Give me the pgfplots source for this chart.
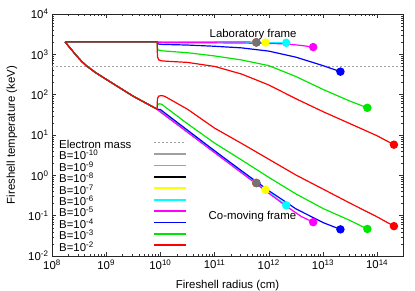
\documentclass[border=0pt]{standalone}
\usepackage{fontspec}
\setmainfont{Liberation Sans}
\usepackage{pgfplots}
\pgfplotsset{compat=1.18}
\definecolor{cgray}{RGB}{160,160,160}
\definecolor{cgraym}{RGB}{115,115,115}
\definecolor{corange}{RGB}{255,128,80}
\definecolor{cblack}{RGB}{0,0,0}
\definecolor{cyellow}{RGB}{255,255,0}
\definecolor{ccyan}{RGB}{0,255,255}
\definecolor{cmagenta}{RGB}{255,0,255}
\definecolor{cblue}{RGB}{0,0,255}
\definecolor{cgreen}{RGB}{0,230,0}
\definecolor{cred}{RGB}{255,0,0}
\newcommand{\fs}{\fontsize{11.4}{13}\selectfont}
\begin{document}
\begin{tikzpicture}
\useasboundingbox (0,0) rectangle (415pt,291pt);
\begin{axis}[
  at={(52pt,35pt)}, anchor=south west,
  scale only axis, width=351pt, height=242pt,
  xmode=log, ymode=log,
  xmin=1e8, xmax=3e14, ymin=1e-2, ymax=1e4,
  xtick={1e8,1e9,1e10,1e11,1e12,1e13,1e14},
  xticklabels={10\textsuperscript{8},10\textsuperscript{9},10\textsuperscript{10},10\textsuperscript{11},10\textsuperscript{12},10\textsuperscript{13},10\textsuperscript{14}},
  ytick={1e-2,1e-1,1,10,100,1000,10000},
  yticklabels={10\textsuperscript{-2},10\textsuperscript{-1},10\textsuperscript{0},10\textsuperscript{1},10\textsuperscript{2},10\textsuperscript{3},10\textsuperscript{4}},
  tick label style={font=\fs},
  label style={font=\fs},
  xlabel={Fireshell radius (cm)},
  ylabel={Fireshell temperature (keV)},
  xlabel style={at={(axis description cs:0.5,-0.124)}, anchor=center},
  ylabel style={at={(axis description cs:-0.114,0.5)}, anchor=center, rotate=0},
  axis line style={black!85, line width=0.7pt},
  major tick length=4.5pt, minor tick length=2.2pt,
  every tick/.style={black!80},
  legend cell align=left,
  legend plot pos=right,
  legend image code/.code={\path (0pt,0pt); \draw[#1] (22pt,3.5pt) -- (54pt,3.5pt);},
  legend style={at={(0.02,0.478)}, anchor=north west, draw=none, fill=none, inner sep=0pt,
    font=\fs, row sep=0pt,
    nodes={inner sep=0pt, text height=8pt, text depth=3.4pt}},
  every axis plot/.append style={line width=1.2pt},
]
% electron mass
\addplot[forget plot, cgray, line width=1.1pt, dash pattern=on 1.5pt off 2.5pt] coordinates {(1e8,511) (3e14,511)};

% B=1e-10 gray
\addplot[forget plot, cgray] coordinates {(1.738e8,2042) (8.71e9,2042) (1e10,2010) (5.9e11,1980)};
\addplot[forget plot, cgray] coordinates {(1.738e8,2042) (2.239e8,1349) (2.818e8,933) (3.548e8,661) (4.467e8,501) (6.31e8,355) (1e9,240) (3.162e9,91.2) (8.71e9,43.7) (5.9e11,0.645)};
% B=1e-9 orange
\addplot[forget plot, corange] coordinates {(1.738e8,2042) (8.71e9,2042) (1e10,2010) (5.8e11,1980)};
\addplot[forget plot, corange] coordinates {(1.738e8,2042) (2.239e8,1349) (2.818e8,933) (3.548e8,661) (4.467e8,501) (6.31e8,355) (1e9,240) (3.162e9,91.2) (8.71e9,43.7) (5.8e11,0.656)};
% B=1e-8 black
\addplot[forget plot, cblack] coordinates {(1.738e8,2042) (8.71e9,2042) (1e10,2010) (5.9e11,1980)};
\addplot[forget plot, cblack] coordinates {(1.738e8,2042) (2.239e8,1349) (2.818e8,933) (3.548e8,661) (4.467e8,501) (6.31e8,355) (1e9,240) (3.162e9,91.2) (8.71e9,43.7) (5.9e11,0.645)};
% B=1e-7 yellow
\addplot[forget plot, cyellow] coordinates {(1.738e8,2042) (8.71e9,2042) (1e10,2005) (8.7e11,1960)};
\addplot[forget plot, cyellow] coordinates {(1.738e8,2042) (2.239e8,1349) (2.818e8,933) (3.548e8,661) (4.467e8,501) (6.31e8,355) (1e9,240) (3.162e9,91.2) (8.71e9,43.7) (8.7e11,0.4375)};
% B=1e-6 cyan
\addplot[forget plot, ccyan] coordinates {(1.738e8,2042) (8.71e9,2042) (1e10,2000) (2.1e12,1930)};
\addplot[forget plot, ccyan] coordinates {(1.738e8,2042) (2.239e8,1349) (2.818e8,933) (3.548e8,661) (4.467e8,501) (6.31e8,355) (1e9,240) (3.162e9,91.2) (8.71e9,43.7) (2.1e12,0.181)};
% B=1e-5 magenta
\addplot[forget plot, cmagenta] coordinates {(1.738e8,2042) (8.71e9,2042) (1e10,1950) (1e11,1928) (3.16e11,1905) (1e12,1862) (2e12,1820) (4e12,1660) (6.6e12,1514)};
\addplot[forget plot, cmagenta] coordinates {(1.738e8,2042) (2.239e8,1349) (2.818e8,933) (3.548e8,661) (4.467e8,501) (6.31e8,355) (1e9,240) (3.162e9,91.2) (8.71e9,43.7) (1e10,37.5) (1e11,3.65) (1e12,0.36) (2e12,0.18) (4e12,0.095) (6.6e12,0.069)};
% B=1e-4 blue
\addplot[forget plot, cblue] coordinates {(1.738e8,2042) (8.71e9,2042) (8.8e9,1850) (9.5e9,1790) (1.1e10,1760) (3.16e10,1700) (1e11,1585) (3.16e11,1445) (1e12,1202) (3.16e12,851) (1e13,525) (2.1e13,372)};
\addplot[forget plot, cblue] coordinates {(1.738e8,2042) (2.239e8,1349) (2.818e8,933) (3.548e8,661) (4.467e8,501) (6.31e8,355) (1e9,240) (3.162e9,91.2) (8.71e9,43.7) (1e10,42.7) (3.16e10,13.2) (1e11,4.07) (3.16e11,1.29) (1e12,0.417) (3.16e12,0.148) (1e13,0.0676) (2.1e13,0.0457)};
% B=1e-3 green
\addplot[forget plot, cgreen] coordinates {(1.738e8,2042) (8.71e9,2042) (8.75e9,1550) (8.95e9,1330) (9.5e9,1260) (1.1e10,1220) (3.16e10,1096) (1e11,912) (3.16e11,724) (1e12,525) (3.16e12,282) (1e13,135) (3.16e13,69) (6.6e13,47.3)};
\addplot[forget plot, cgreen] coordinates {(1.738e8,2042) (2.239e8,1349) (2.818e8,933) (3.548e8,661) (4.467e8,501) (6.31e8,355) (1e9,240) (3.162e9,91.2) (8.71e9,43.7) (8.75e9,52) (8.95e9,57) (9.5e9,59.5) (1.05e10,58) (3.16e10,19) (1e11,6.31) (3.16e11,2.40) (1e12,0.891) (3.16e12,0.347) (1e13,0.151) (3.16e13,0.0759) (6.6e13,0.0468)};
% B=1e-2 red
\addplot[forget plot, cred] coordinates {(1.738e8,2042) (8.71e9,2042) (8.75e9,1200) (8.9e9,850) (9.3e9,730) (1.05e10,690) (1.3e10,675) (3.16e10,631) (1e11,501) (3.16e11,324) (1e12,174) (3.16e12,79.4) (1e13,38) (3.16e13,19.1) (1e14,9.55) (2.04e14,5.75)};
\addplot[forget plot, cred] coordinates {(1.738e8,2042) (2.239e8,1349) (2.818e8,933) (3.548e8,661) (4.467e8,501) (6.31e8,355) (1e9,240) (3.162e9,91.2) (8.71e9,43.7) (8.73e9,60) (8.85e9,80) (9.3e9,92) (1.05e10,95) (1.2e10,91) (3.16e10,43.6) (1e11,14.8) (3.16e11,6.17) (1e12,2.51) (3.16e12,1.02) (1e13,0.457) (3.16e13,0.204) (1e14,0.0933) (2.04e14,0.055)};

% end markers
\addplot[forget plot, only marks, mark=*, mark size=3.6pt, cblack] coordinates {(5.9e11,1980) (5.9e11,0.645)};
\addplot[forget plot, only marks, mark=*, mark size=3.6pt, corange] coordinates {(5.8e11,1980) (5.8e11,0.656)};
\addplot[forget plot, only marks, mark=*, mark size=3.6pt, cgraym] coordinates {(5.9e11,1980) (5.9e11,0.645)};
\addplot[forget plot, only marks, mark=*, mark size=3.6pt, cyellow] coordinates {(8.7e11,1960) (8.7e11,0.4375)};
\addplot[forget plot, only marks, mark=*, mark size=3.6pt, ccyan] coordinates {(2.1e12,1930) (2.1e12,0.181)};
\addplot[forget plot, only marks, mark=*, mark size=3.6pt, cmagenta] coordinates {(6.6e12,1514) (6.6e12,0.069)};
\addplot[forget plot, only marks, mark=*, mark size=3.6pt, cblue] coordinates {(2.1e13,372) (2.1e13,0.0457)};
\addplot[forget plot, only marks, mark=*, mark size=3.6pt, cgreen] coordinates {(6.6e13,47.3) (6.6e13,0.0468)};
\addplot[forget plot, only marks, mark=*, mark size=3.6pt, cred] coordinates {(2.04e14,5.75) (2.04e14,0.055)};

\node[anchor=west, inner sep=0pt, font=\fs] at (axis cs:8.07e10,3013) {Laboratory frame};
\node[anchor=west, inner sep=0pt, font=\fs] at (axis cs:7.74e10,0.0973) {Co-moving frame};

% legend
\addlegendimage{cgray, line width=1.1pt, dash pattern=on 1.5pt off 2.5pt}
\addlegendentry{Electron mass}
\addlegendimage{cgray, line width=1.7pt}\addlegendentry{B=10\textsuperscript{-10}}
\addlegendimage{corange, line width=1.7pt}\addlegendentry{B=10\textsuperscript{-9}}
\addlegendimage{cblack, line width=1.7pt}\addlegendentry{B=10\textsuperscript{-8}}
\addlegendimage{cyellow, line width=1.7pt}\addlegendentry{B=10\textsuperscript{-7}}
\addlegendimage{ccyan, line width=1.7pt}\addlegendentry{B=10\textsuperscript{-6}}
\addlegendimage{cmagenta, line width=1.7pt}\addlegendentry{B=10\textsuperscript{-5}}
\addlegendimage{cblue, line width=1.7pt}\addlegendentry{B=10\textsuperscript{-4}}
\addlegendimage{cgreen, line width=1.7pt}\addlegendentry{B=10\textsuperscript{-3}}
\addlegendimage{cred, line width=1.7pt}\addlegendentry{B=10\textsuperscript{-2}}
\end{axis}
\end{tikzpicture}
\end{document}
